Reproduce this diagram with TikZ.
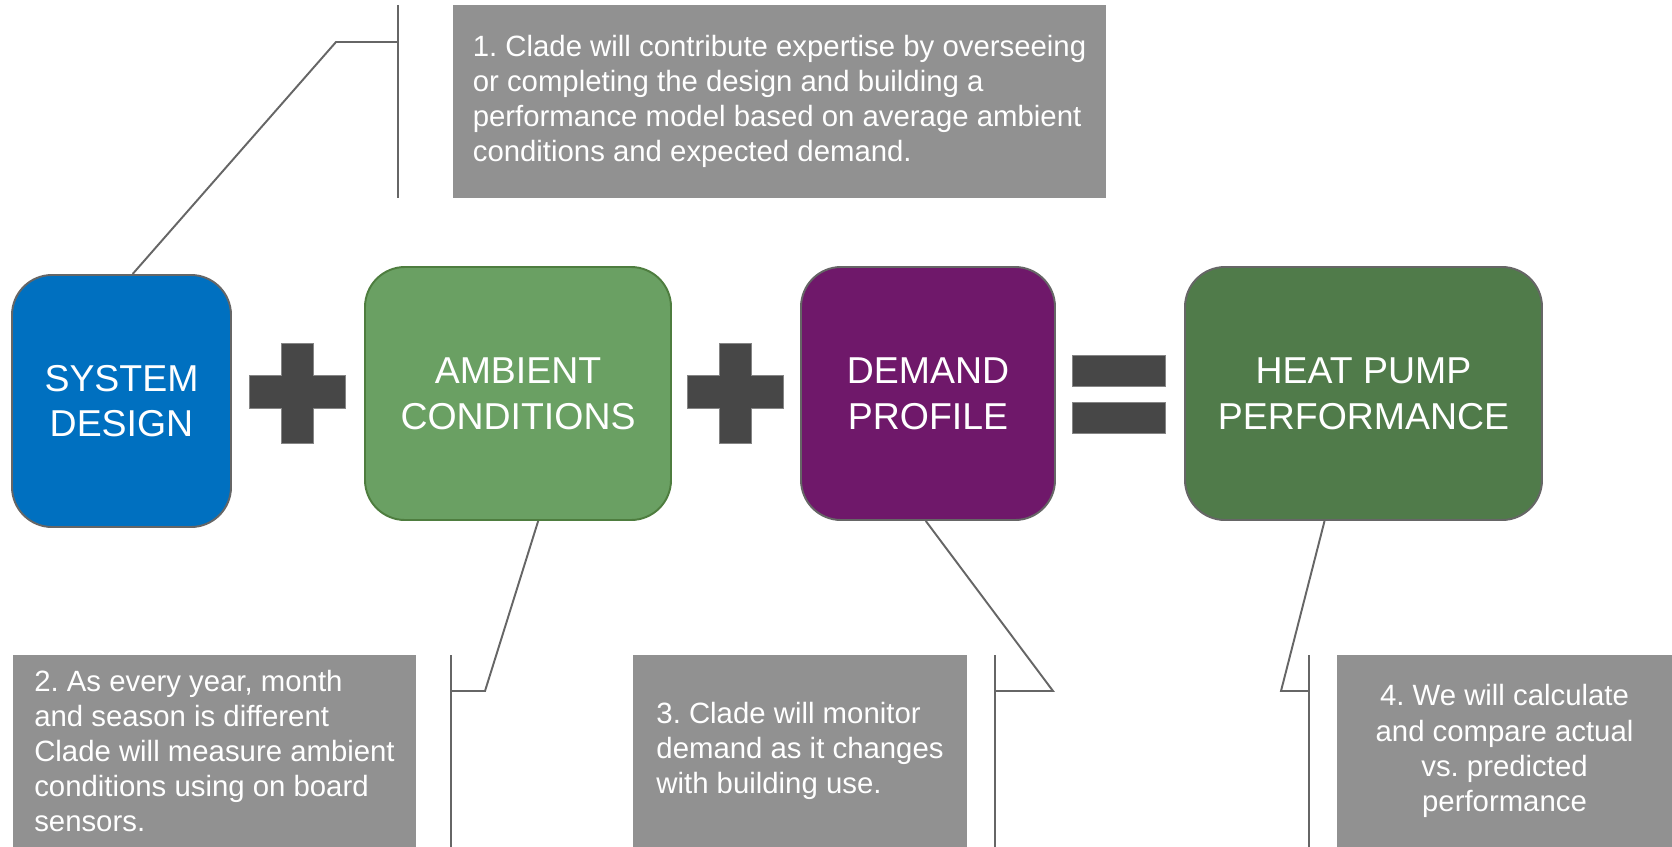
\documentclass[tikz,border=0pt]{standalone}
\usepackage{fontspec}
\setmainfont{Liberation Sans}
\frenchspacing
\definecolor{sysblue}{HTML}{0070C0}
\definecolor{ambgreen}{HTML}{6AA063}
\definecolor{ambedge}{HTML}{4E7D3F}
\definecolor{dempurple}{HTML}{6F186A}
\definecolor{hpgreen}{HTML}{507B4A}
\definecolor{notegray}{HTML}{919191}
\definecolor{linegray}{HTML}{666666}
\definecolor{signgray}{HTML}{474747}
\tikzset{
 stage/.style={draw=linegray,line width=1.1pt,rounded corners=0.8cm,text=white,align=center,
  font=\fontsize{21.3}{26}\selectfont,minimum height=5.06cm,inner sep=0pt},
 note/.style={fill=notegray,text=white,font=\fontsize{16.7}{20}\selectfont\frenchspacing,
  minimum height=3.85cm,inner sep=0pt},
 lead/.style={draw=linegray,line width=1.1pt},
 sign/.style={fill=signgray,draw=linegray!80,line width=0.5pt}
}
\begin{document}
\begin{tikzpicture}[x=0.2mm,y=-0.2mm]
 \useasboundingbox (0,0) rectangle (1672,847);
 % stages
 \node[stage,fill=sysblue,minimum width=4.38cm,minimum height=5.04cm] (sys) at (121.5,401) {SYSTEM\\DESIGN};
 \node[stage,fill=ambgreen,draw=ambedge,minimum width=6.12cm] (amb) at (518,393.5) {AMBIENT\\CONDITIONS};
 \node[stage,fill=dempurple,minimum width=5.08cm] (dem) at (928,393.5) {DEMAND\\PROFILE};
 \node[stage,fill=hpgreen,minimum width=7.14cm] (hp) at (1363.5,393.5) {HEAT PUMP\\PERFORMANCE};
 % plus and equals signs
 \foreach \cx in {297,735}
  \draw[sign] ({\cx-16},343) -- ({\cx+16},343) -- ({\cx+16},375) -- ({\cx+48},375) -- ({\cx+48},408)
   -- ({\cx+16},408) -- ({\cx+16},443) -- ({\cx-16},443) -- ({\cx-16},408) -- ({\cx-48},408)
   -- ({\cx-48},375) -- ({\cx-16},375) -- cycle;
 \draw[sign] (1072,355) rectangle (1165,386);
 \draw[sign] (1072,402) rectangle (1165,433);
 % notes
 \node[note,align=left,minimum width=13.06cm,minimum height=3.86cm] (n1) at (779.5,101.5)
  {1. Clade will contribute expertise by overseeing\\or completing the design and building a\\performance model based on average ambient\\conditions and expected demand.};
 \node[note,align=left,minimum width=8.06cm] (n2) at (214.5,751)
  {2. As every year, month\\and season is different\\Clade will measure ambient\\conditions using on board\\sensors.};
 \node[note,align=left,minimum width=6.68cm] (n3) at (800,751)
  {3. Clade will monitor\\demand as it changes\\with building use.};
 \node[note,align=center,minimum width=6.7cm] (n4) at (1504.5,751)
  {4. We will calculate\\and compare actual\\vs. predicted\\performance};
 % callout brackets
 \coordinate (b1t) at (398,5);   \coordinate (b1b) at (398,198);  \coordinate (e1) at (336,42);
 \coordinate (b2t) at (451,655); \coordinate (b2b) at (451,847);  \coordinate (e2) at (485,691);
 \coordinate (b3t) at (995,655); \coordinate (b3b) at (995,847);  \coordinate (e3) at (1053,691);
 \coordinate (b4t) at (1309,655);\coordinate (b4b) at (1309,847); \coordinate (e4) at (1281,691);
 \draw[lead] (b1t) -- (b1b);
 \draw[lead] (b2t) -- (b2b);
 \draw[lead] (b3t) -- (b3b);
 \draw[lead] (b4t) -- (b4b);
 \draw[lead] (sys.85) -- (e1) -- (e1 -| b1t);
 \draw[lead] (amb.-81) -- (e2) -- (e2 -| b2t);
 \draw[lead] (dem.-91) -- (e3) -- (e3 -| b3t);
 \draw[lead] (hp.-107) -- (e4) -- (e4 -| b4t);
\end{tikzpicture}
\end{document}
